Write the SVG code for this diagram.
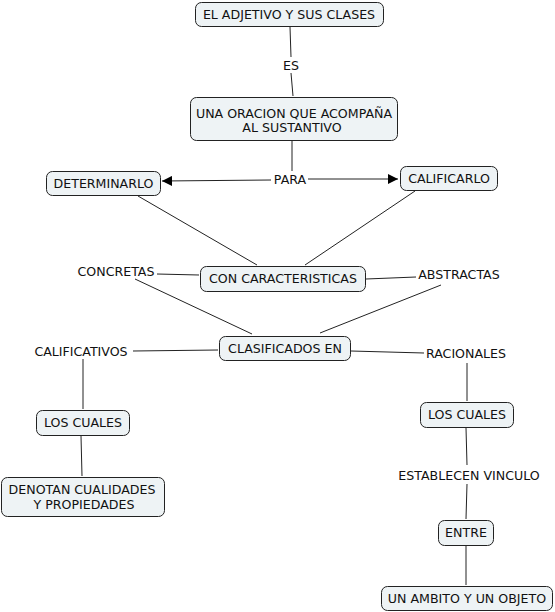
<svg xmlns="http://www.w3.org/2000/svg" width="555" height="612" viewBox="0 0 555 612">
<style>
.n{fill:#eef3f5;stroke:#222;stroke-width:1}
.t{font-family:"DejaVu Sans",Verdana,sans-serif;font-size:12.6px;fill:#111;text-anchor:middle}
.c line{stroke:#222;stroke-width:1}
</style>
<defs>
<marker id="ar" viewBox="0 0 10 10" refX="10" refY="5" markerWidth="10" markerHeight="10" markerUnits="userSpaceOnUse" orient="auto"><path d="M0,0L10,5L0,10z" fill="#000"/></marker>
</defs>
<rect width="555" height="612" fill="#fff"/>
<g class="c">
<line x1="290" y1="27" x2="291" y2="57"/>
<line x1="291" y1="73" x2="293" y2="96"/>
<line x1="292" y1="141" x2="292" y2="171"/>
<line x1="271" y1="180" x2="162" y2="181" marker-end="url(#ar)"/>
<line x1="308" y1="179" x2="398" y2="179" marker-end="url(#ar)"/>
<line x1="138" y1="196" x2="257" y2="265"/>
<line x1="415" y1="191" x2="305" y2="265"/>
<line x1="157" y1="274" x2="199" y2="275"/>
<line x1="366" y1="279" x2="416" y2="277"/>
<line x1="135" y1="279" x2="252" y2="334"/>
<line x1="441" y1="285" x2="320" y2="333"/>
<line x1="133" y1="351" x2="218" y2="350"/>
<line x1="351" y1="351" x2="424" y2="353"/>
<line x1="83" y1="359" x2="83" y2="409"/>
<line x1="81" y1="436" x2="82" y2="476"/>
<line x1="467" y1="363" x2="467" y2="401"/>
<line x1="466" y1="428" x2="467" y2="465"/>
<line x1="467" y1="484" x2="466" y2="519"/>
<line x1="466" y1="546" x2="466" y2="585"/>
</g>
<g id="n1"><rect class="n" x="195.5" y="2.5" width="188" height="24" rx="6"/><text class="t" x="289" y="18.5">EL ADJETIVO Y SUS CLASES</text></g>
<g id="l-es"><text class="t" x="291" y="70">ES</text></g>
<g id="n2"><rect class="n" x="190.5" y="97.5" width="207" height="43" rx="6"/><text class="t" x="294" y="117.5">UNA ORACION QUE ACOMPAÑA</text><text class="t" x="292" y="132">AL SUSTANTIVO</text></g>
<g id="l-para"><text class="t" x="290" y="184">PARA</text></g>
<g id="n3"><rect class="n" x="46.5" y="171.5" width="114" height="24" rx="6"/><text class="t" x="103.5" y="187.5">DETERMINARLO</text></g>
<g id="n4"><rect class="n" x="400.5" y="166.5" width="97" height="24" rx="6"/><text class="t" x="449" y="182.5">CALIFICARLO</text></g>
<g id="n5"><rect class="n" x="200.5" y="266.5" width="165" height="25" rx="6"/><text class="t" x="283" y="283">CON CARACTERISTICAS</text></g>
<g id="l-concretas"><text class="t" x="116" y="276">CONCRETAS</text></g>
<g id="l-abstractas"><text class="t" x="459" y="279">ABSTRACTAS</text></g>
<g id="n6"><rect class="n" x="219.5" y="336.5" width="131" height="24" rx="6"/><text class="t" x="285" y="352.5">CLASIFICADOS EN</text></g>
<g id="l-calificativos"><text class="t" x="81" y="355.5">CALIFICATIVOS</text></g>
<g id="l-racionales"><text class="t" x="466" y="357.5">RACIONALES</text></g>
<g id="n7"><rect class="n" x="36.5" y="410.5" width="93" height="25" rx="6"/><text class="t" x="83" y="427">LOS CUALES</text></g>
<g id="n8"><rect class="n" x="1.5" y="477.5" width="163" height="39" rx="6"/><text class="t" x="82" y="494">DENOTAN CUALIDADES</text><text class="t" x="84" y="508.5">Y PROPIEDADES</text></g>
<g id="n9"><rect class="n" x="420.5" y="402.5" width="93" height="25" rx="6"/><text class="t" x="467" y="419">LOS CUALES</text></g>
<g id="l-establecen"><text class="t" x="469" y="479.5">ESTABLECEN VINCULO</text></g>
<g id="n10"><rect class="n" x="438.5" y="520.5" width="55" height="25" rx="6"/><text class="t" x="466" y="537">ENTRE</text></g>
<g id="n11"><rect class="n" x="381.5" y="586.5" width="171" height="24" rx="6"/><text class="t" x="467" y="602.5">UN AMBITO Y UN OBJETO</text></g>
</svg>
